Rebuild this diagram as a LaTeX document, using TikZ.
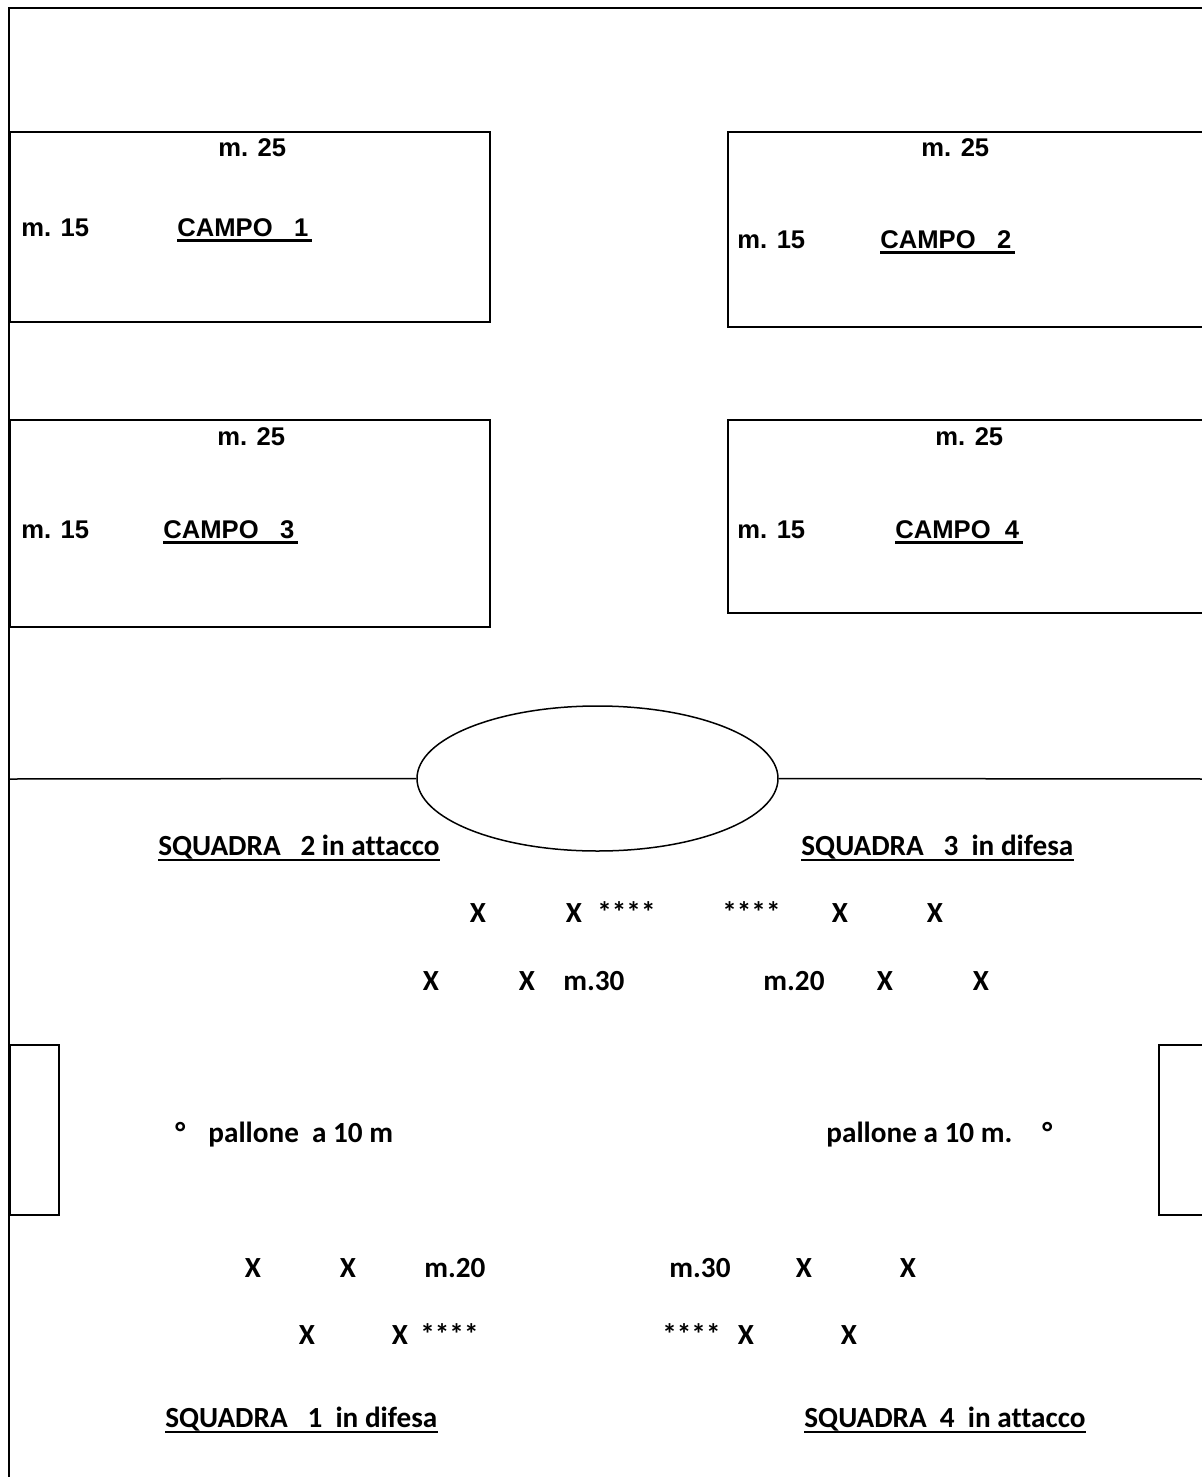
\documentclass[tikz,border=0pt]{standalone}
\usepackage{fontspec}
\usetikzlibrary{shapes.geometric}
\newfontfamily\arialf{Liberation Sans}
\newfontfamily\calibf[Ligatures=NoCommon]{Carlito}
\tikzset{
	bordo/.style={line width=1.1pt},
	campo/.style={line width=1pt},
	porta/.style={line width=1pt},
	meta/.style={line width=.75pt},
	sottol/.style={line width=1.1pt},
	misura/.style={inner sep=0pt, anchor=base west, font=\arialf\bfseries\fontsize{12.8}{15}\selectfont},
	squadra/.style={inner sep=0pt, anchor=base west, font=\calibf\bfseries\fontsize{14.6}{17}\selectfont},
	gioc/.style={inner sep=0pt, anchor=base, font=\calibf\bfseries\fontsize{14.6}{17}\selectfont}
}

\begin{document}
\begin{tikzpicture}[x=.5pt,y=-.5pt]
\useasboundingbox (0,0) rectangle (1202,1477);
% bordo del terreno
\coordinate (bb) at (9,1482);
\coordinate (bs) at (9,8);
\coordinate (bd) at (1208,8);
\draw [bordo] (bb) -- (bs) -- (bd);
% campi
\draw [campo] (10,132) rectangle (490,322);
\draw [campo] (728,132) rectangle (1208,327);
\draw [campo] (10,420) rectangle (490,627);
\draw [campo] (728,420) rectangle (1208,613);
\node [misura] (c1a) at (218,156) {m. 25};
\node [misura] (c1b) at (21,236) {m. 15};
\node [misura] (c1) at (177,236) {CAMPO\ \ \ 1};
\node [misura] (c2a) at (921,156) {m. 25};
\node [misura] (c2b) at (737,248) {m. 15};
\node [misura] (c2) at (880,248) {CAMPO\ \ \ 2};
\node [misura] (c3a) at (217,445) {m. 25};
\node [misura] (c3b) at (21,538) {m. 15};
\node [misura] (c3) at (163,538) {CAMPO\ \ \ 3};
\node [misura] (c4a) at (935,445) {m. 25};
\node [misura] (c4b) at (737,538) {m. 15};
\node [misura] (c4) at (895,538) {CAMPO\ \ 4};
% meta campo
\node [meta, draw, ellipse, inner sep=0pt, minimum width=180.5pt, minimum height=72.5pt] (cerchio) at (597.5,778.5) {};
\coordinate (ms) at (10,779);
\coordinate (md) at (1208,779);
\draw [meta] (ms) -- (cerchio.west);
\draw [meta] (cerchio.east) -- (md);
% porte
\draw [porta] (10,1045) rectangle (59,1215);
\draw [porta] (1159,1045) rectangle (1208,1215);
% squadre
\node [squadra] (sq2) at (158,855) {SQUADRA\ \ \ 2 in attacco};
\node [squadra] (sq3) at (801,855) {SQUADRA\ \ \ 3\ \ in difesa};
\node [squadra] (sq1) at (165,1427) {SQUADRA\ \ \ 1\ \ in difesa};
\node [squadra] (sq4) at (804,1427) {SQUADRA\ \ 4\ \ in attacco};
% sottolineature
\foreach \n in {c1,c2,c3,c4}
	\draw [sottol] ([yshift=-2.2pt]\n.base west) -- ([yshift=-2.2pt,xshift=1.5pt]\n.base east);
\foreach \n in {sq1,sq2,sq3,sq4}
	\draw [sottol] ([yshift=-2.4pt]\n.base west) -- ([yshift=-2.4pt]\n.base east);
% giocatori
\foreach \x [count=\i] in {478,574,840,935} \node [gioc] (xa\i) at (\x,922) {X};
\foreach \x [count=\i] in {431,527,885,981} \node [gioc] (xb\i) at (\x,990) {X};
\foreach \x [count=\i] in {253,348,804,908} \node [gioc] (xc\i) at (\x,1277) {X};
\foreach \x [count=\i] in {307,400,746,849} \node [gioc] (xd\i) at (\x,1344) {X};
\node [squadra] (sa1) at (597,922) {****};
\node [squadra] (sa2) at (722,922) {****};
\node [squadra] (sd1) at (420,1344) {****};
\node [squadra] (sd2) at (662,1344) {****};
\node [squadra] (db1) at (563,990) {m.30};
\node [squadra] (db2) at (763,990) {m.20};
\node [squadra] (dc1) at (424,1277) {m.20};
\node [squadra] (dc2) at (669,1277) {m.30};
% palloni
\node [squadra] (p1) at (175,1142) {°};
\node [squadra] (t1) at (208,1142) {pallone\ \ a 10 m};
\node [squadra] (t2) at (826,1142) {pallone a 10 m.};
\node [squadra] (p2) at (1042,1142) {°};
\end{tikzpicture}
\end{document}
